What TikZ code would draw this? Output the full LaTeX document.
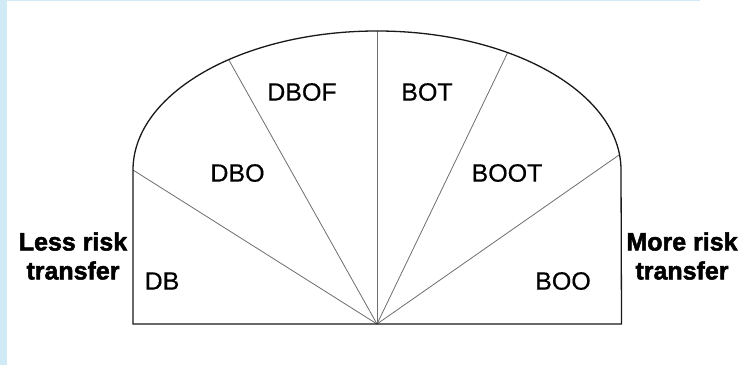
\documentclass[tikz,border=0pt]{standalone}
\usepackage{fontspec}
\setmainfont{Liberation Sans}
\newfontface\heavyfont{Liberation Sans Bold}[FakeBold=2]
\newfontface\labelfont{Liberation Sans}[FakeBold=0.4]
\usetikzlibrary{calc}
\definecolor{frameblue}{RGB}{208,235,245}
\definecolor{raygray}{RGB}{110,110,110}
\tikzset{
  outline/.style={draw=black!90, line width=1.3pt},
  ray/.style={draw=raygray, line width=0.8pt},
  sector/.style={font=\labelfont\fontsize{25}{30}\selectfont, inner sep=0pt},
  side/.style={font=\heavyfont\fontsize{25}{29}\selectfont, align=center, inner sep=0pt}
}
\begin{document}
\begin{tikzpicture}[x=1pt,y=1pt]
\useasboundingbox (0,0) rectangle (743,365);
\fill[white] (0,0) rectangle (743,365);
\fill[frameblue] (0,0) rectangle (6.5,365);
\fill[frameblue] (0,363.5) rectangle (700,365);
% key points
\coordinate (C) at (377,41);
\coordinate (LB) at (133,41);
\coordinate (LT) at (133,195);
\coordinate (RB) at (621.5,41);
\coordinate (P1) at (133,195);
\coordinate (P2) at (230,303);
\coordinate (P3) at (377,334);
\coordinate (P4) at (507,311);
\coordinate (P5) at (619,210);
% rays clipped to the shape
\begin{scope}
  \clip (LB) -- (LT) arc[start angle=180, end angle=0, x radius=244, y radius=139] -- (RB) -- cycle;
  \foreach \p in {P1,P2,P3,P4,P5} {
    \draw[ray] (C) -- ($(C)!1.08!(\p)$);
  }
\end{scope}
% outline
\draw[outline] (LB) -- (LT) arc[start angle=180, end angle=0, x radius=244, y radius=139] -- (RB) -- cycle;
% sector labels
\node[sector] (db)   at (162,84)  {DB};
\node[sector] (dbo)  at (237.5,192) {DBO};
\node[sector] (dbof) at (302,273) {DBOF};
\node[sector] (bot)  at (427,273) {BOT};
\node[sector] (boot) at (507,192) {BOOT};
\node[sector] (boo)  at (563,84)  {BOO};
% side labels
\node[side] (less) at (73,109) {Less risk\\transfer};
\node[side] (more) at (682,109) {More risk\\transfer};
\end{tikzpicture}
\end{document}
